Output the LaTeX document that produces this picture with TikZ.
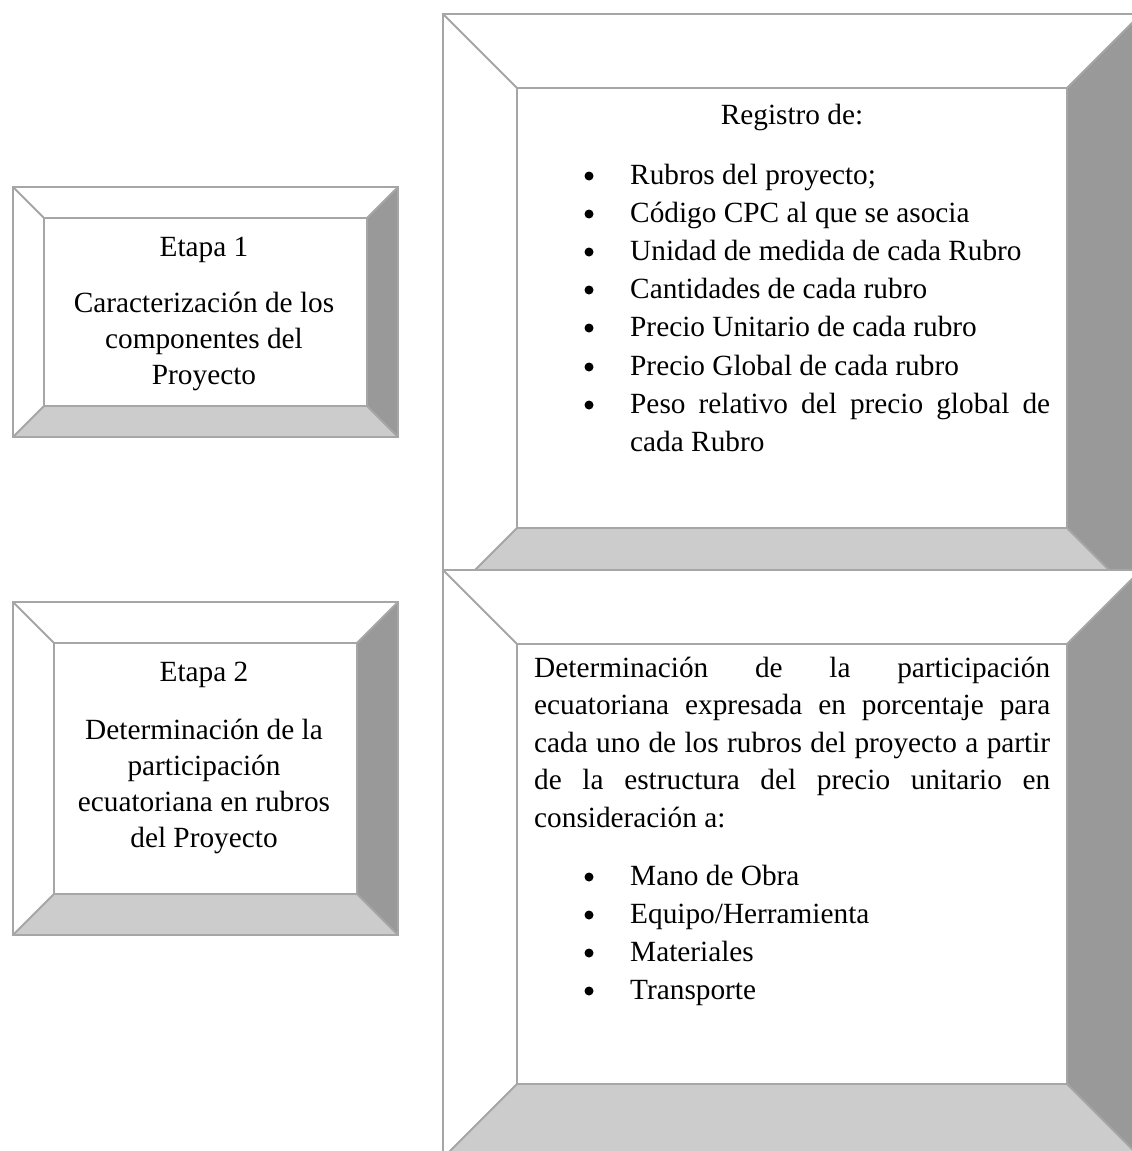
\documentclass[tikz,border=0pt]{standalone}
\usepackage{fontspec}
\setmainfont{Liberation Serif}
\definecolor{bordegris}{RGB}{166,166,166}
\definecolor{biseloscuro}{RGB}{153,153,153}
\definecolor{biselclaro}{RGB}{204,204,204}
% bevelled frame: x1 y1 x2 y2 bevel
\newcommand{\bisel}[5]{%
	\fill[white] (#1,#2) rectangle (#3,#4);
	\fill[biseloscuro] (#3,#2) -- ({#3-#5},{#2+#5}) -- ({#3-#5},{#4-#5}) -- (#3,#4) -- cycle;
	\fill[biselclaro] (#1,#4) -- ({#1+#5},{#4-#5}) -- ({#3-#5},{#4-#5}) -- (#3,#4) -- cycle;
	\draw[borde] (#1,#2) rectangle (#3,#4);
	\draw[borde] ({#1+#5},{#2+#5}) rectangle ({#3-#5},{#4-#5});
	\draw[borde] (#1,#2) -- ({#1+#5},{#2+#5});
	\draw[borde] (#3,#2) -- ({#3-#5},{#2+#5});
	\draw[borde] (#1,#4) -- ({#1+#5},{#4-#5});
	\draw[borde] (#3,#4) -- ({#3-#5},{#4-#5});
}

\begin{document}
\begin{tikzpicture}[x=1pt, y=-1pt,
	borde/.style={draw=bordegris, line width=2pt},
	texto/.style={font=\fontsize{29.3}{36}\selectfont, inner sep=0pt},
	centrado/.style={texto, anchor=base},
	renglon/.style={texto, anchor=base west},
	punto/.style={circle, fill=black, inner sep=0pt, minimum size=9pt}]
	\clip (0,0) rectangle (1132,1151);
	% frames first
	\bisel{13}{187}{398}{437}{31}
	\bisel{13}{602}{398}{935}{41}
	\bisel{443}{14}{1141}{602}{74}
	\bisel{443}{570}{1141}{1158}{74}
	% Etapa 1
	\node[centrado] at (204,256) (et1) {Etapa 1};
	\node[centrado] at (204,312) (car1) {Caracterización de los};
	\node[centrado] at (204,348) (car2) {componentes del};
	\node[centrado] at (204,384) (car3) {Proyecto};
	% Etapa 2
	\node[centrado] at (204,681) (et2) {Etapa 2};
	\node[centrado] at (204,739) (det1) {Determinación de la};
	\node[centrado] at (204,775) (det2) {participación};
	\node[centrado] at (204,811) (det3) {ecuatoriana en rubros};
	\node[centrado] at (204,847) (det4) {del Proyecto};
	% Registro
	\node[centrado] at (792,124) (reg) {Registro de:};
	\node[punto] at (589,176) (b1) {};
	\node[renglon] at (630,184) (rub) {Rubros del proyecto;};
	\node[punto] at (589,214) (b2) {};
	\node[renglon] at (630,222) (cpc) {Código CPC al que se asocia};
	\node[punto] at (589,252) (b3) {};
	\node[renglon] at (630,260) (uni) {Unidad de medida de cada Rubro};
	\node[punto] at (589,290) (b4) {};
	\node[renglon] at (630,298) (can) {Cantidades de cada rubro};
	\node[punto] at (589,328) (b5) {};
	\node[renglon] at (630,336) (pun) {Precio Unitario de cada rubro};
	\node[punto] at (589,367) (b6) {};
	\node[renglon] at (630,375) (pgl) {Precio Global de cada rubro};
	\node[punto] at (589,405) (b7) {};
	\node[renglon] at (630,413) (pes1) {\makebox[420pt][s]{Peso relativo del precio global de}};
	\node[renglon] at (630,451) (pes2) {cada Rubro};
	% Participacion
	\node[renglon] at (534,677) (par1) {\makebox[516pt][s]{Determinación de la participación}};
	\node[renglon] at (534,714.5) (par2) {\makebox[516pt][s]{ecuatoriana expresada en porcentaje para}};
	\node[renglon] at (534,752) (par3) {\makebox[516pt][s]{cada uno de los rubros del proyecto a partir}};
	\node[renglon] at (534,789.5) (par4) {\makebox[516pt][s]{de la estructura del precio unitario en}};
	\node[renglon] at (534,827) (par5) {consideración a:};
	\node[punto] at (589,877) (c1) {};
	\node[renglon] at (630,885) (mob) {Mano de Obra};
	\node[punto] at (589,915) (c2) {};
	\node[renglon] at (630,923) (equ) {Equipo/Herramienta};
	\node[punto] at (589,953) (c3) {};
	\node[renglon] at (630,961) (mat) {Materiales};
	\node[punto] at (589,991) (c4) {};
	\node[renglon] at (630,999) (tra) {Transporte};
\end{tikzpicture}
\end{document}
